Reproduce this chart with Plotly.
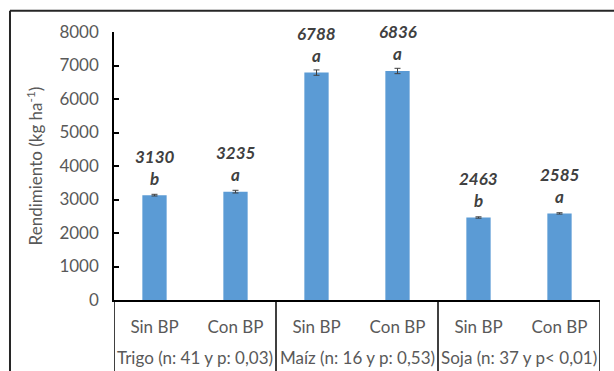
import plotly.graph_objects as go

# Rendimiento por cultivo y tratamiento
cultivos = ["Trigo (n: 41 y p: 0,03)", "Maíz (n: 16 y p: 0,53)", "Soja (n: 37 y p< 0,01)"]
tratamientos = ["Sin BP", "Con BP", "Sin BP", "Con BP", "Sin BP", "Con BP"]
rendimiento = [3130, 3235, 6788, 6836, 2463, 2585]
error = [25, 40, 80, 80, 20, 20]
letras = ["b", "a", "a", "a", "b", "a"]

FONT = "Lato"
GRAY = "#595959"
DARK = "#404040"

pos = list(range(len(tratamientos)))

fig = go.Figure()
fig.add_trace(go.Bar(
    x=pos,
    y=rendimiento,
    marker=dict(color="#5B9BD5", line=dict(width=0)),
    error_y=dict(type="data", array=error, visible=True,
                 color=DARK, thickness=1, width=3),
    hoverinfo="skip",
))

annotations = []
for i, (v, l) in enumerate(zip(rendimiento, letras)):
    annotations.append(dict(
        x=i, y=v, xref="x", yref="y", text=f"<b><i>{v}</i></b>",
        showarrow=False, yanchor="middle", yshift=39,
        font=dict(family=FONT, size=17, color=DARK)))
    annotations.append(dict(
        x=i, y=v, xref="x", yref="y", text=f"<b><i>{l}</i></b>",
        showarrow=False, yanchor="middle", yshift=17,
        font=dict(family=FONT, size=17, color=DARK)))

# group labels under each pair of bars
for g, name in enumerate(cultivos):
    annotations.append(dict(
        x=2 * g + 0.5, y=-0.216, xref="x", yref="paper", text=name,
        showarrow=False, yanchor="middle",
        font=dict(family=FONT, size=17, color=GRAY)))

shapes = []
# vertical separators of the category table
for b in [-0.5, 1.5, 3.5, 5.5]:
    shapes.append(dict(type="line", xref="x", yref="paper", x0=b, x1=b,
                       y0=0, y1=-0.3, line=dict(color="black", width=1.5)))
# chart-area frame (left and top edges)
shapes += [
    dict(type="line", xref="paper", yref="paper", x0=-0.214, x1=-0.214,
         y0=1.079, y1=-0.3, line=dict(color="#262626", width=2)),
    dict(type="line", xref="paper", yref="paper", x0=-0.214, x1=1.05,
         y0=1.079, y1=1.079, line=dict(color="#262626", width=2)),
]

fig.update_layout(
    width=614, height=371,
    margin=dict(l=114, r=14, t=32, b=71),
    paper_bgcolor="white", plot_bgcolor="white",
    showlegend=False,
    bargap=0.70,
    font=dict(family=FONT, size=17, color=GRAY),
    annotations=annotations,
    shapes=shapes,
    xaxis=dict(
        range=[-0.5, 5.5], tickvals=pos, ticktext=tratamientos,
        showline=True, linecolor="black", linewidth=1.5,
        showgrid=False, zeroline=False, ticks="", ticklabelstandoff=11,
        tickfont=dict(family=FONT, size=17, color=GRAY),
    ),
    yaxis=dict(
        range=[0, 8000], dtick=1000, showgrid=False, zeroline=False,
        showline=True, linecolor="black", linewidth=1.5,
        ticks="inside", ticklen=5, tickcolor="black", tickwidth=1.5,
        ticklabelstandoff=10,
        tickfont=dict(family=FONT, size=17, color=GRAY),
        title=dict(text="Rendimiento (kg ha<sup>-1</sup>)", standoff=12,
                   font=dict(family=FONT, size=17, color=GRAY)),
    ),
)

fig.write_html("out.html")
